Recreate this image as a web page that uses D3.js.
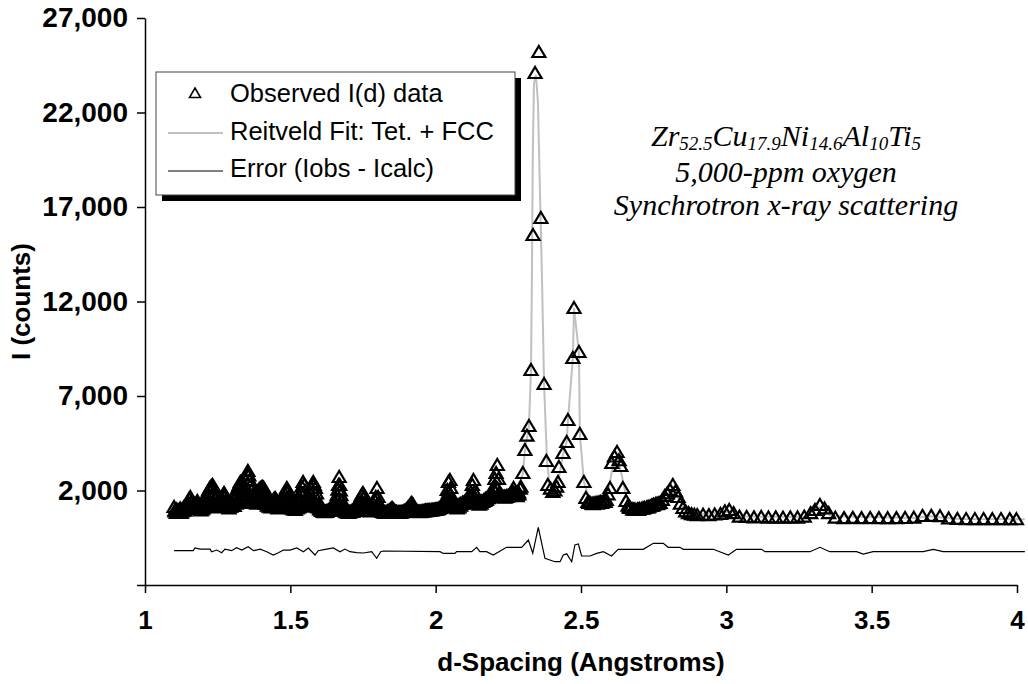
<!DOCTYPE html>
<html>
<head>
<meta charset="utf-8">
<script src="https://cdn.jsdelivr.net/npm/d3@7/dist/d3.min.js"></script>
<style>
  html, body { margin: 0; padding: 0; background: #fff; }
  svg { display: block; }
  .tick text { font-family: "Liberation Sans", Arial, sans-serif; font-weight: bold; fill: #000; }
</style>
</head>
<body>
<svg id="chart" width="1028" height="684"></svg>
<script>
// ---- data -------------------------------------------------------------
// Observed intensity I(d): [d-spacing (Å), counts]
const observed = [
  [1.100,1127],[1.104,900],[1.108,820],[1.112,850],[1.116,950],[1.120,880],[1.124,820],[1.128,900],
  [1.132,1000],[1.136,940],[1.140,1050],[1.144,1200],[1.148,1400],[1.152,1560],[1.156,1656],[1.160,1350],
  [1.164,1100],[1.168,1000],[1.172,1150],[1.176,1300],[1.180,1444],[1.184,1300],[1.188,1050],[1.192,950],
  [1.196,1000],[1.200,1100],[1.204,1250],[1.208,1500],[1.212,1700],[1.216,1900],[1.220,2050],[1.224,2150],
  [1.228,2230],[1.232,2291],[1.236,2200],[1.240,1900],[1.244,1550],[1.248,1350],[1.252,1250],[1.256,1300],
  [1.260,1450],[1.264,1600],[1.268,1750],[1.272,1868],[1.276,1750],[1.280,1500],[1.284,1300],[1.288,1200],
  [1.292,1150],[1.296,1250],[1.300,1400],[1.304,1550],[1.308,1700],[1.312,1850],[1.316,2000],[1.320,2150],
  [1.324,2300],[1.328,2450],[1.332,2350],[1.336,2100],[1.340,2000],[1.344,2250],[1.348,2556],[1.352,2850],
  [1.354,3032],[1.357,2800],[1.360,2556],[1.364,2300],[1.368,2000],[1.372,1800],[1.376,1650],[1.380,1700],
  [1.384,1850],[1.388,1950],[1.392,2050],[1.396,2120],[1.400,2160],[1.404,2185],[1.408,2150],[1.412,2000],
  [1.416,1800],[1.420,1600],[1.424,1450],[1.428,1350],[1.432,1300],[1.436,1350],[1.440,1450],[1.444,1560],
  [1.448,1603],[1.452,1500],[1.456,1300],[1.460,1200],[1.464,1250],[1.468,1400],[1.472,1550],[1.476,1700],
  [1.480,1850],[1.484,2000],[1.488,2132],[1.492,2000],[1.496,1700],[1.500,1450],[1.504,1300],[1.508,1200],
  [1.512,1150],[1.516,1100],[1.520,1150],[1.524,1250],[1.528,1400],[1.532,1650],[1.536,1900],[1.540,2200],
  [1.544,2450],[1.548,2300],[1.552,1950],[1.556,1650],[1.560,1500],[1.564,1600],[1.568,1850],[1.572,2132],
  [1.576,2350],[1.579,2450],[1.582,2300],[1.586,2132],[1.590,1850],[1.594,1500],[1.598,1250],[1.602,1100],
  [1.606,1000],[1.610,950],[1.615,900],[1.620,880],[1.625,900],[1.630,950],[1.635,1000],[1.640,1050],
  [1.645,1100],[1.650,1200],[1.654,1350],[1.658,1550],[1.661,1760],[1.664,2050],[1.666,2290],[1.668,2714],
  [1.670,2290],[1.672,2000],[1.674,1760],[1.678,1450],[1.682,1200],[1.686,1000],[1.690,900],[1.695,850],
  [1.700,820],[1.705,860],[1.710,900],[1.715,880],[1.720,950],[1.725,1050],[1.730,1200],[1.735,1400],
  [1.740,1600],[1.745,1750],[1.750,1868],[1.755,1700],[1.760,1400],[1.765,1150],[1.770,1000],[1.775,950],
  [1.780,1050],[1.785,1300],[1.790,1500],[1.794,1656],[1.798,2132],[1.802,1656],[1.806,1300],[1.810,1050],
  [1.815,900],[1.820,850],[1.825,820],[1.830,850],[1.835,900],[1.840,950],[1.845,1000],[1.850,1074],
  [1.855,1000],[1.860,900],[1.865,850],[1.870,830],[1.875,820],[1.880,840],[1.885,860],[1.890,900],
  [1.895,950],[1.900,1000],[1.905,1100],[1.910,1200],[1.915,1300],[1.918,1338],[1.922,1250],[1.926,1100],
  [1.930,950],[1.935,900],[1.940,870],[1.945,860],[1.950,880],[1.955,900],[1.960,920],[1.965,940],
  [1.970,950],[1.975,950],[1.980,960],[1.985,960],[1.990,970],[1.995,980],[2.000,990],
  [1.103,950],[1.109,1000],[1.115,900],[1.121,1050],[1.127,980],[1.133,1100],[1.139,1020],[1.145,1150],
  [1.151,1250],[1.157,1180],[1.163,1080],[1.169,1200],[1.175,1120],[1.181,1250],[1.187,1100],[1.193,1180],
  [1.199,1050],[1.205,1200],[1.211,1300],[1.217,1250],[1.223,1380],[1.229,1300],[1.235,1400],[1.241,1250],
  [1.247,1180],[1.253,1100],[1.259,1250],[1.265,1300],[1.271,1400],[1.277,1280],[1.283,1150],[1.289,1050],
  [1.295,1150],[1.301,1250],[1.307,1180],[1.313,1300],[1.319,1350],[1.325,1450],[1.331,1380],[1.337,1500],
  [1.343,1400],[1.349,1550],[1.355,1450],[1.361,1600],[1.367,1450],[1.373,1350],[1.379,1400],[1.385,1300],
  [1.391,1450],[1.397,1380],[1.403,1500],[1.409,1400],[1.415,1300],[1.421,1200],[1.427,1150],[1.433,1100],
  [1.439,1200],[1.445,1250],[1.451,1150],[1.457,1050],[1.463,1100],[1.469,1200],[1.475,1280],[1.481,1350],
  [1.487,1450],[1.493,1300],[1.499,1150],[1.505,1050],[1.511,1000],[1.517,980],[1.523,1050],[1.529,1100],
  [1.535,1200],[1.541,1300],[1.547,1400],[1.553,1250],[1.559,1150],[1.565,1200],[1.571,1350],[1.577,1450],
  [1.583,1350],[1.589,1200],[1.595,1100],[1.601,1000],[1.607,920],[1.613,870],[1.619,850],[1.625,880],
  [1.631,920],[1.637,950],[1.643,980],[1.649,1000],[1.655,1050],[1.661,1150],[1.667,1300],[1.673,1150],
  [1.679,1050],[1.685,950],[1.691,880],[1.697,840],[1.703,860],[1.709,880],[1.715,900],[1.721,920],
  [1.727,980],[1.733,1050],[1.739,1150],[1.745,1250],[1.751,1300],[1.757,1150],[1.763,1000],[1.769,920],
  [1.775,900],[1.781,950],[1.787,1050],[1.793,1150],[1.799,1250],[1.805,1100],[1.811,950],[1.817,880],
  [1.823,850],[1.829,860],[1.835,880],[1.841,900],[1.847,940],[1.853,960],[1.859,900],[1.865,870],
  [1.871,850],[1.877,850],[1.883,860],[1.889,880],[1.895,900],[1.901,940],[1.907,1000],[1.913,1080],
  [1.919,1100],[1.925,1000],[1.931,920],[1.937,890],[1.943,880],[1.949,880],[1.955,890],[1.961,900],
  [1.967,910],[1.973,930],[1.979,940],[1.985,950],[1.991,960],[1.997,970],
  [2.003,1000],[2.009,1020],[2.015,1080],[2.021,1150],[2.027,1250],[2.033,1400],[2.039,1700],[2.045,1900],
  [2.051,1800],[2.057,1400],[2.063,1200],[2.069,1150],[2.075,1200],[2.081,1250],[2.087,1300],[2.093,1350],
  [2.099,1400],[2.105,1450],[2.111,1550],[2.117,1600],[2.123,1700],[2.129,1800],[2.135,1600],[2.141,1450],
  [2.147,1400],[2.153,1380],[2.159,1420],[2.165,1480],[2.171,1550],[2.177,1600],[2.183,1650],[2.189,1750],
  [2.195,1850],[2.201,2000],[2.207,2200],[2.213,2100],[2.219,1800],[2.225,1700],[2.231,1650],[2.237,1680],
  [2.243,1700],[2.249,1720],[2.255,1780],[2.261,1850],[2.267,1900],[2.273,1850],[2.279,1800],[2.285,1900],
  [2.291,2100],
  [2.006,1000],[2.012,1050],[2.018,1100],[2.024,1200],[2.030,1350],[2.035,1500],[2.040,2030],[2.044,2450],
  [2.049,2556],[2.052,2132],[2.056,1603],[2.062,1250],[2.068,1100],[2.074,1050],[2.080,1100],[2.086,1200],
  [2.092,1300],[2.098,1350],[2.104,1400],[2.110,1500],[2.116,1700],[2.121,1921],[2.126,2300],[2.130,2556],
  [2.134,1921],[2.138,1500],[2.144,1300],[2.150,1250],[2.156,1300],[2.162,1400],[2.168,1450],[2.174,1500],
  [2.180,1600],[2.186,1700],[2.192,1868],[2.198,2132],[2.204,2608],[2.208,2926],[2.212,3349],[2.216,2608],
  [2.220,1868],[2.226,1700],[2.232,1656],[2.238,1620],[2.244,1656],[2.250,1700],[2.256,1762],[2.262,1900],
  [2.268,2132],[2.274,1762],[2.280,1700],[2.286,1800],[2.293,2200],[2.300,2926],[2.307,4143],[2.314,4900],
  [2.321,5413],[2.328,8376],[2.335,15519],[2.342,24090],[2.355,25200],[2.362,16418],[2.373,7635],[2.381,3560],
  [2.386,2291],[2.395,2100],[2.403,1921],[2.410,2000],[2.416,2200],[2.421,2450],[2.424,3243],[2.438,3984],
  [2.451,4566],[2.455,5730],[2.472,9011],[2.476,11656],[2.493,9328],[2.496,4989],[2.510,2450],[2.517,1603],
  [2.524,1400],[2.531,1340],[2.538,1300],[2.545,1320],[2.552,1340],[2.559,1360],[2.566,1400],[2.573,1380],
  [2.580,1420],[2.587,1500],[2.593,1800],[2.600,2132],[2.606,3455],[2.615,3800],[2.624,4037],[2.631,3600],
  [2.637,3296],[2.644,2132],[2.655,1444],[2.662,1200],[2.670,1074],[2.678,1000],[2.686,980],[2.694,1000],
  [2.702,1020],[2.710,1050],[2.718,1080],[2.726,1100],[2.734,1150],[2.742,1200],[2.750,1250],[2.758,1300],
  [2.766,1320],[2.772,1340],[2.780,1500],[2.788,1700],[2.797,1850],[2.806,2030],[2.816,2291],[2.825,1950],
  [2.834,1656],[2.842,1300],[2.851,1074],[2.860,900],[2.870,800],[2.880,750],[2.890,720],
  [2.528,1350],[2.541,1280],[2.556,1300],[2.570,1350],[2.583,1400],[2.666,1100],[2.682,1000],[2.698,980],
  [2.714,1040],[2.730,1100],[2.746,1200],[2.762,1280],
  [2.900,700],[2.920,720],[2.940,700],[2.960,730],[2.980,760],[2.995,900],[3.010,968],[3.025,800],
  [3.045,620],[3.070,600],[3.095,580],[3.120,600],[3.145,570],[3.170,580],[3.195,560],[3.220,580],
  [3.245,570],[3.268,620],[3.290,800],[3.305,968],[3.322,1233],[3.338,1050],[3.352,800],[3.375,560],
  [3.405,540],[3.435,550],[3.465,540],[3.495,545],[3.525,540],[3.555,535],[3.585,540],[3.615,545],
  [3.645,560],[3.675,650],[3.705,660],[3.735,640],[3.765,520],[3.795,495],[3.825,490],[3.855,490],
  [3.885,490],[3.915,485],[3.945,490],[3.975,485],[3.998,480]
];

// Rietveld calculated profile (Tet. + FCC)
const fitCurve = [
  [1.10,950],[1.15,1250],[1.20,1150],[1.25,1400],[1.30,1500],[1.35,1900],[1.40,1800],[1.45,1400],
  [1.50,1350],[1.55,1400],[1.60,1150],[1.65,1100],[1.70,950],[1.75,1200],[1.80,1150],[1.85,950],
  [1.90,950],[1.95,930],[2.00,980],[2.04,1500],[2.08,1300],[2.13,1700],[2.17,1400],[2.21,2300],
  [2.25,1800],[2.28,2000],[2.300,2900],[2.307,4100],[2.321,5400],[2.328,8400],[2.331,13100],[2.334,19500],
  [2.338,23500],[2.345,24000],[2.352,22500],[2.357,19000],[2.366,13100],[2.373,7600],[2.383,3600],[2.392,2300],
  [2.403,1950],[2.421,2400],[2.438,3900],[2.451,4600],[2.455,5700],[2.472,9000],[2.476,11650],[2.493,9300],
  [2.496,5000],[2.510,2450],[2.53,1500],[2.56,1380],[2.59,1600],[2.606,3000],[2.624,3900],[2.64,2800],
  [2.66,1400],[2.70,1050],[2.75,1200],[2.78,1450],[2.81,2050],[2.835,1600],[2.86,900],[2.90,720],
  [3.00,870],[3.05,620],[3.27,600],[3.32,1100],[3.36,650],[3.65,550],[3.70,640],[3.75,560],
  [3.80,495],[4.027,480]
];

// Difference curve (Iobs - Icalc), drawn offset below the pattern
const errorCurve = [
  [1.100,-1185],[1.132,-1185],[1.166,-1185],[1.172,-1042],[1.189,-1100],[1.224,-1100],[1.229,-1238],[1.247,-1150],
  [1.264,-1291],[1.275,-1100],[1.298,-1185],[1.315,-1026],[1.333,-1150],[1.355,-974],[1.373,-1185],[1.396,-1100],
  [1.419,-1238],[1.441,-1413],[1.459,-1291],[1.476,-1150],[1.499,-1150],[1.522,-1042],[1.545,-1238],[1.562,-1042],
  [1.585,-1413],[1.596,-1185],[1.625,-1100],[1.648,-1042],[1.671,-1238],[1.688,-1100],[1.705,-1238],[1.728,-1291],
  [1.751,-1307],[1.780,-1238],[1.797,-1587],[1.811,-1238],[1.820,-1201],[2.015,-1238],[2.026,-1330],[2.066,-1330],
  [2.072,-1238],[2.124,-1238],[2.141,-1005],[2.152,-1238],[2.175,-1238],[2.198,-1413],[2.244,-1005],[2.296,-1005],
  [2.319,-619],[2.334,-1323],[2.353,53],[2.376,-1587],[2.410,-1767],[2.428,-1767],[2.439,-1413],[2.451,-1350],
  [2.468,-1767],[2.479,-884],[2.491,-831],[2.502,-1466],[2.531,-1466],[2.554,-1330],[2.577,-1238],[2.605,-1466],
  [2.628,-1111],[2.714,-1111],[2.749,-794],[2.783,-794],[2.800,-1005],[2.840,-1005],[2.852,-1111],[2.955,-1111],
  [3.007,-1413],[3.035,-1111],[3.121,-1111],[3.133,-1238],[3.288,-1238],[3.322,-1005],[3.356,-1238],[3.448,-1238],
  [3.471,-1360],[3.505,-1238],[3.677,-1238],[3.712,-1111],[3.746,-1238],[4.027,-1238]
];

const xTicks = [1, 1.5, 2, 2.5, 3, 3.5, 4];
const yTicks = [-3000, 2000, 7000, 12000, 17000, 22000, 27000];
const legendLabels = ["Observed I(d) data", "Reitveld Fit: Tet. + FCC", "Error (Iobs - Icalc)"];

// ---- layout -------------------------------------------------------------
const svg = d3.select("#chart");
const plot = { left: 145, right: 1017, top: 18, bottom: 585 };

const x = d3.scaleLinear().domain([1, 4]).range([plot.left, plot.right]);
const y = d3.scaleLinear().domain([-3000, 27000]).range([plot.bottom, plot.top]);

const SANS = '"Liberation Sans", Arial, sans-serif';
const SERIF = '"Liberation Serif", "Times New Roman", serif';

// open triangle marker
const triPath = "M0,-6L6.5,5L-6.5,5Z";

// ---- series -------------------------------------------------------------
const line = d3.line().x(d => x(d[0])).y(d => y(d[1]));

svg.append("path")
  .datum(fitCurve)
  .attr("d", line)
  .attr("fill", "none")
  .attr("stroke", "#c0c0c0")
  .attr("stroke-width", 2);

svg.append("path")
  .datum(errorCurve)
  .attr("d", line)
  .attr("fill", "none")
  .attr("stroke", "#000")
  .attr("stroke-width", 1.2);

svg.append("g")
  .selectAll("path")
  .data(observed)
  .join("path")
  .attr("d", triPath)
  .attr("transform", d => `translate(${x(d[0])},${y(d[1])})`)
  .attr("fill", "none")
  .attr("stroke", "#000")
  .attr("stroke-width", 2.2);

// ---- axes -------------------------------------------------------------
const yAxis = d3.axisLeft(y)
  .tickValues(yTicks)
  .tickSize(8)
  .tickSizeOuter(0)
  .tickPadding(9)
  .tickFormat(v => v < 0 ? "" : d3.format(",")(v));

const gy = svg.append("g")
  .attr("transform", `translate(${plot.left},0)`)
  .call(yAxis);
gy.selectAll(".tick text").attr("font-size", 28);

const xAxis = d3.axisBottom(x)
  .tickValues(xTicks)
  .tickSize(8)
  .tickSizeOuter(0)
  .tickPadding(18)
  .tickFormat(d3.format("~g"));

const gx = svg.append("g")
  .attr("transform", `translate(0,${plot.bottom})`)
  .call(xAxis);
gx.selectAll(".tick text").attr("font-size", 26);

[gx, gy].forEach(g => {
  g.select(".domain").attr("stroke", "#000").attr("stroke-width", 1.5);
  g.selectAll(".tick line").attr("stroke", "#000").attr("stroke-width", 1.5);
});

// axis titles
svg.append("text")
  .attr("x", (plot.left + plot.right) / 2)
  .attr("y", 671)
  .attr("text-anchor", "middle")
  .attr("font-family", SANS)
  .attr("font-weight", "bold")
  .attr("font-size", 26)
  .text("d-Spacing (Angstroms)");

svg.append("text")
  .attr("transform", `translate(30,${(plot.top + plot.bottom) / 2}) rotate(-90)`)
  .attr("text-anchor", "middle")
  .attr("font-family", SANS)
  .attr("font-weight", "bold")
  .attr("font-size", 26)
  .text("I (counts)");

// ---- legend -------------------------------------------------------------
const lg = svg.append("g");
const box = { x: 156, y: 72, w: 359, h: 123 };
lg.append("rect")
  .attr("x", box.x + 6).attr("y", box.y + 6)
  .attr("width", box.w).attr("height", box.h)
  .attr("fill", "#000");
lg.append("rect")
  .attr("x", box.x).attr("y", box.y)
  .attr("width", box.w).attr("height", box.h)
  .attr("fill", "#fff")
  .attr("stroke", "#444")
  .attr("stroke-width", 1);

const rowY = [93, 131, 168];
lg.append("path")
  .attr("d", "M0,-5L5.5,4.5L-5.5,4.5Z")
  .attr("transform", `translate(195,${rowY[0]})`)
  .attr("fill", "none")
  .attr("stroke", "#000")
  .attr("stroke-width", 1.6);
lg.append("line")
  .attr("x1", 168).attr("x2", 223).attr("y1", rowY[1] + 2).attr("y2", rowY[1] + 2)
  .attr("stroke", "#c0c0c0").attr("stroke-width", 2);
lg.append("line")
  .attr("x1", 168).attr("x2", 223).attr("y1", rowY[2] + 3).attr("y2", rowY[2] + 3)
  .attr("stroke", "#000").attr("stroke-width", 1);

lg.selectAll("text.lbl")
  .data(legendLabels)
  .join("text")
  .attr("class", "lbl")
  .attr("x", 230)
  .attr("y", (d, i) => rowY[i])
  .attr("dy", "0.35em")
  .attr("font-family", SANS)
  .attr("font-size", 25.5)
  .text(d => d);

// ---- sample annotation -----------------------------------------------------
const note = svg.append("g")
  .attr("font-family", SERIF)
  .attr("font-style", "italic")
  .attr("font-size", 30)
  .attr("text-anchor", "middle");

const formula = [["Zr", "52.5"], ["Cu", "17.9"], ["Ni", "14.6"], ["Al", "10"], ["Ti", "5"]];
const ft = note.append("text").attr("x", 786).attr("y", 146);
formula.forEach(([el, sub]) => {
  ft.append("tspan").text(el);
  ft.append("tspan")
    .attr("font-size", 19)
    .attr("baseline-shift", "-20%")
    .text(sub);
});
note.append("text").attr("x", 786).attr("y", 182).text("5,000-ppm oxygen");
note.append("text").attr("x", 786).attr("y", 215).text("Synchrotron x-ray scattering");
</script>
</body>
</html>
